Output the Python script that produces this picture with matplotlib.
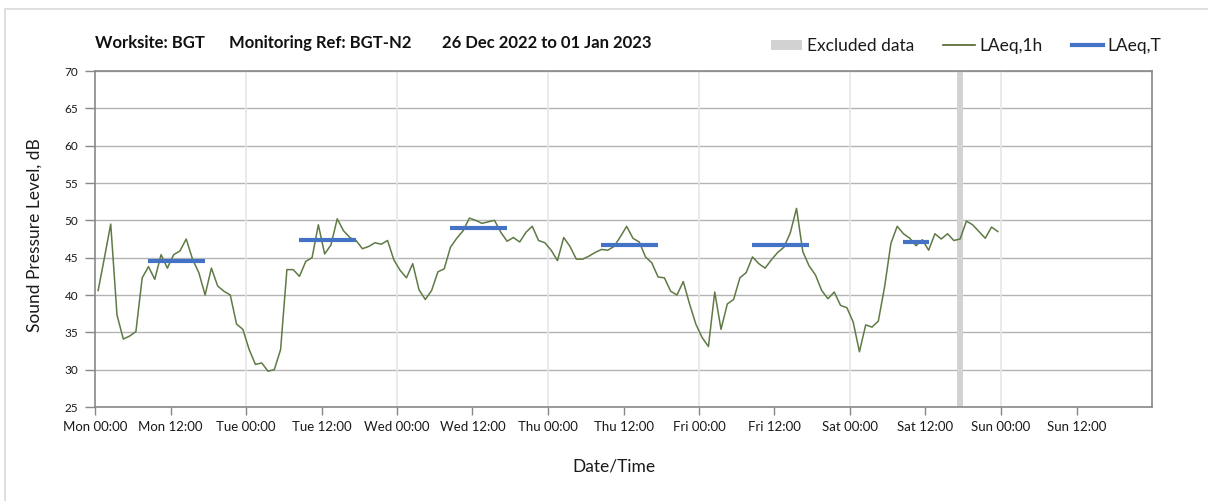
import matplotlib
matplotlib.use("Agg")
import matplotlib.pyplot as plt
import matplotlib.patches as mpatches
from matplotlib.lines import Line2D
import numpy as np

plt.rcParams['font.family'] = ['Lato', 'DejaVu Sans']

# ---- data ----
laeq_1h = [
    40.6, 45.0, 49.5, 37.3, 34.1, 34.5, 35.1, 42.3, 43.8, 42.1, 45.4, 43.6,
    45.4, 45.9, 47.5, 44.8, 43.0, 40.0, 43.6, 41.2, 40.5, 40.0, 36.1, 35.4,
    32.7, 30.7, 30.9, 29.8, 30.0, 32.7, 43.4, 43.4, 42.5, 44.5, 45.0, 49.4,
    45.5, 46.7, 50.2, 48.6, 47.7, 47.3, 46.2, 46.5, 47.0, 46.8, 47.3, 44.7,
    43.3, 42.3, 44.2, 40.7, 39.4, 40.6, 43.1, 43.5, 46.4, 47.6, 48.6, 50.3,
    50.0, 49.6, 49.8, 50.0, 48.4, 47.2, 47.7, 47.1, 48.4, 49.2, 47.3, 47.0,
    46.0, 44.6, 47.7, 46.5, 44.8, 44.8, 45.2, 45.7, 46.1, 46.0, 46.5, 47.8,
    49.2, 47.6, 47.1, 45.1, 44.3, 42.4, 42.3, 40.5, 40.0, 41.8, 38.8, 36.1,
    34.3, 33.1, 40.4, 35.4, 38.8, 39.4, 42.3, 43.0, 45.1, 44.2, 43.6, 44.7,
    45.7, 46.4, 48.3, 51.6, 45.8, 43.9, 42.7, 40.6, 39.5, 40.4, 38.6, 38.3,
    36.4, 32.4, 36.0, 35.7, 36.5, 41.1, 46.9, 49.2, 48.2, 47.6, 46.6, 47.4,
    46.0, 48.2, 47.5, 48.2, 47.3, 47.5, 49.9, 49.4, 48.5, 47.6, 49.1, 48.5,
]
hours = np.arange(len(laeq_1h))  # hours since Mon 00:00

# LAeq,T periods: (first hour, last hour, level)
period_start = [8, 32, 56, 80, 104, 128]
period_end = [17, 41, 65, 89, 113, 132]
period_level = [44.6, 47.3, 49.0, 46.7, 46.7, 47.1]

excluded_hours = [137]

tick_hours = list(range(0, 168, 12))
tick_labels = ["Mon 00:00", "Mon 12:00", "Tue 00:00", "Tue 12:00", "Wed 00:00",
               "Wed 12:00", "Thu 00:00", "Thu 12:00", "Fri 00:00", "Fri 12:00",
               "Sat 00:00", "Sat 12:00", "Sun 00:00", "Sun 12:00"]
y_ticks = list(range(25, 71, 5))

# ---- figure ----
W, H = 1208, 501
fig = plt.figure(figsize=(W / 100, H / 100), dpi=100)
fig.patch.set_facecolor('white')

# outer frame
fig.patches.append(mpatches.Rectangle((5 / W, -0.1), 1.2, 1 - 9 / H + 0.1,
                                      transform=fig.transFigure, fill=False,
                                      edgecolor='#d9d9d9', linewidth=1.2))

ax = fig.add_axes([95 / W, 1 - 407 / H, (1152 - 95) / W, (407 - 71) / H])
ax.set_xlim(0, 168)
ax.set_ylim(25, 70)

# grid
for y in y_ticks:
    ax.axhline(y, color='#b4b4b4', lw=1, zorder=0)
for x in range(24, 168, 24):
    ax.axvline(x, color='#e6e6e6', lw=1.2, zorder=0)

# excluded data
for h in excluded_hours:
    ax.axvspan(h, h + 1, color='#d2d2d2', lw=0, zorder=1)

pos = hours + 0.5
ax.plot(pos, laeq_1h, color='#5f7a45', lw=1.1, zorder=3)

for s, e, v in zip(period_start, period_end, period_level):
    ax.plot([s + 0.5, e + 0.5], [v, v], color='#4472c4', lw=3, zorder=4,
            solid_capstyle='butt')

for sp in ax.spines.values():
    sp.set_color('#888888')
    sp.set_linewidth(1.2)

ax.set_xticks(tick_hours)
ax.set_xticklabels(tick_labels)
ax.set_yticks(y_ticks)
ax.tick_params(axis='x', length=6, width=1, color='#888888', labelsize=9.5,
               labelcolor='#1a1a1a', pad=4)
ax.tick_params(axis='y', length=7, width=1, color='#888888', labelsize=8.5,
               labelcolor='#1a1a1a', pad=5)

fig.text(35 / W, 1 - 235 / H, "Sound Pressure Level, dB", fontsize=12.5,
         color='#1a1a1a', rotation=90, ha='center', va='center')
fig.text(614 / W, 1 - 466 / H, "Date/Time", fontsize=12.5, color='#1a1a1a',
         ha='center', va='center')

# title
ty = 1 - 43 / H
fig.text(95 / W, ty, "Worksite: BGT", fontsize=12, fontweight='bold',
         ha='left', va='center', color='#111111')
fig.text(229 / W, ty, "Monitoring Ref: BGT-N2", fontsize=12, fontweight='bold',
         ha='left', va='center', color='#111111')
fig.text(442 / W, ty, "26 Dec 2022 to 01 Jan 2023", fontsize=12, fontweight='bold',
         ha='left', va='center', color='#111111')

# legend
handles = [mpatches.Patch(facecolor='#d2d2d2', edgecolor='none'),
           Line2D([0], [0], color='#4f6228', lw=1.2),
           Line2D([0], [0], color='#4472c4', lw=3)]
labels = ["Excluded data", "LAeq,1h", "LAeq,T"]
fig.legend(handles, labels, loc='center', bbox_to_anchor=(966 / W, 1 - 46 / H),
           ncol=3, frameon=False, fontsize=12.5, handlelength=1.8,
           handleheight=0.5, handletextpad=0.25, columnspacing=1.7,
           labelcolor='#1a1a1a')

fig.savefig("out.png", dpi=100, facecolor='white')
